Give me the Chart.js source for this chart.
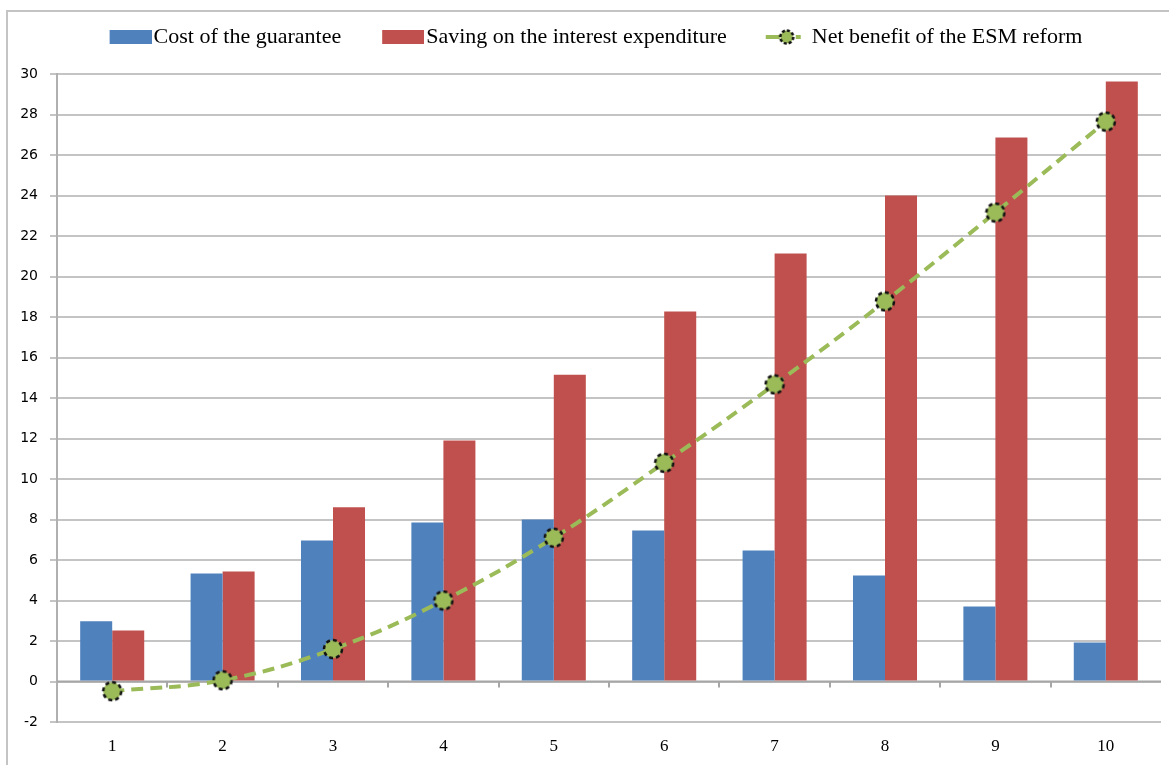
<!DOCTYPE html>
<html>
<head>
<meta charset="utf-8">
<script src="https://cdn.jsdelivr.net/npm/chart.js@4.4.1/dist/chart.umd.min.js"></script>
<style>
html,body{margin:0;padding:0;background:#fff;}
#wrap{position:relative;width:1169px;height:765px;overflow:hidden;}
#frame{position:absolute;left:6px;top:10px;width:1200px;height:800px;border-left:2px solid #c4c4c4;border-top:2px solid #c4c4c4;pointer-events:none;}
canvas{position:absolute;left:0;top:0;}
</style>
</head>
<body>
<div id="wrap">
<canvas id="c" width="1169" height="765"></canvas>
<div id="frame"></div>
</div>
<script>
// ---- data ----
const categories = ['1','2','3','4','5','6','7','8','9','10'];
const costOfGuarantee = [2.97, 5.33, 6.96, 7.85, 8.0, 7.46, 6.47, 5.23, 3.7, 1.93];
const savingOnInterest = [2.52, 5.43, 8.6, 11.9, 15.15, 18.27, 21.13, 24.0, 26.86, 29.63];
const netBenefit = [-0.48, 0.06, 1.6, 4.0, 7.1, 10.8, 14.67, 18.77, 23.16, 27.65];
const seriesNames = ['Cost of the guarantee', 'Saving on the interest expenditure', 'Net benefit of the ESM reform'];
const yMin = -2, yMax = 30, yStep = 2;

// ---- styles ----
const BLUE = '#4F81BD', RED = '#C0504D', GREEN = '#9BBB59';
const ICON_SLOT = 64;           // legend pointStyleWidth
const ICON_W = ICON_SLOT + 18;  // icon canvas width (icon drawn at its right end)

function makeMarker(r) {
  const s = Math.ceil(r * 2 + 4);
  const cv = document.createElement('canvas');
  cv.width = s; cv.height = s;
  const g = cv.getContext('2d');
  g.beginPath(); g.arc(s/2, s/2, r, 0, Math.PI*2);
  g.fillStyle = GREEN; g.fill();
  g.setLineDash([4, 3]); g.lineWidth = 2.5; g.strokeStyle = '#111'; g.stroke();
  return cv;
}
function makeRect(color) {
  const cv = document.createElement('canvas');
  cv.width = ICON_W; cv.height = 14;
  const g = cv.getContext('2d');
  g.fillStyle = color; g.fillRect(ICON_W - 42, 0, 42, 14);
  return cv;
}
function makeLineLegend() {
  const cv = document.createElement('canvas');
  cv.width = ICON_W; cv.height = 20;
  const g = cv.getContext('2d');
  const o = ICON_W - 46;
  g.strokeStyle = GREEN; g.lineWidth = 4;
  g.beginPath(); g.moveTo(o + 2, 10); g.lineTo(o + 16, 10); g.stroke();
  g.beginPath(); g.moveTo(o + 32, 10); g.lineTo(o + 37, 10); g.stroke();
  g.beginPath(); g.arc(o + 23, 10, 6.5, 0, Math.PI*2);
  g.fillStyle = GREEN; g.fill();
  g.setLineDash([3, 2]); g.lineWidth = 2.5; g.strokeStyle = '#111'; g.stroke();
  return cv;
}
const marker = makeMarker(9);
const legendIcons = [makeRect(BLUE), makeRect(RED), makeLineLegend()];

const zeroAxisPlugin = {
  id: 'zeroAxis',
  beforeDatasetsDraw(chart) {
    const {ctx, chartArea, scales} = chart;
    const y0 = scales.y.getPixelForValue(0);
    ctx.save();
    ctx.strokeStyle = '#a6a6a6';
    ctx.lineWidth = 2;
    ctx.beginPath();
    ctx.moveTo(chartArea.left, y0); ctx.lineTo(chartArea.right, y0);
    for (let i = 0; i < categories.length - 1; i++) {
      const x = Math.round((scales.x.getPixelForValue(i) + scales.x.getPixelForValue(i + 1)) / 2);
      ctx.moveTo(x, y0); ctx.lineTo(x, y0 + 6);
    }
    ctx.stroke();
    ctx.restore();
  }
};

// extra space below the legend
const legendGapPlugin = {
  id: 'legendGap',
  afterInit(chart) {
    const lg = chart.legend;
    if (!lg) return;
    const orig = lg.fit.bind(lg);
    lg.fit = function () { orig(); this.height += 16; };
  }
};

new Chart(document.getElementById('c'), {
  data: {
    labels: categories,
    datasets: [
      { type: 'line', label: seriesNames[2], data: netBenefit, order: 0,
        borderColor: GREEN, borderWidth: 4, borderDash: [12, 7], tension: 0.4,
        fill: false,
        pointStyle: marker, pointRadius: 9, pointHoverRadius: 9 },
      { type: 'bar', label: seriesNames[0], data: costOfGuarantee, order: 1,
        backgroundColor: BLUE, borderWidth: 0 },
      { type: 'bar', label: seriesNames[1], data: savingOnInterest, order: 1,
        backgroundColor: RED, borderWidth: 0 }
    ]
  },
  options: {
    responsive: false,
    animation: false,
    layout: { autoPadding: false, padding: { left: 0, right: 8, top: 16, bottom: 0 } },
    plugins: {
      tooltip: { enabled: false },
      legend: {
        position: 'top',
        labels: {
          font: { family: '"Liberation Serif", serif', size: 22 },
          color: '#000',
          usePointStyle: true,
          pointStyleWidth: ICON_SLOT,
          boxHeight: 14,
          padding: 10,
          generateLabels(chart) {
            const order = [1, 2, 0];
            return order.map((di, k) => ({
              text: chart.data.datasets[di].label,
              pointStyle: legendIcons[k],
              datasetIndex: di,
              hidden: false,
              lineWidth: 0,
              strokeStyle: 'transparent',
              fillStyle: 'transparent',
              fontColor: '#000'
            }));
          }
        }
      }
    },
    datasets: { bar: { barPercentage: 1.0, categoryPercentage: 0.58 } },
    scales: {
      x: {
        type: 'category',
        grid: { display: false, drawTicks: false },
        border: { display: false },
        ticks: { font: { family: '"Liberation Serif", serif', size: 17 }, color: '#000', padding: 14, maxRotation: 0 },
        afterFit(s) { s.height = 43; s.paddingLeft = 0; s.paddingRight = 0; }
      },
      y: {
        min: yMin, max: yMax,
        ticks: { stepSize: yStep, font: { family: '"DejaVu Sans", sans-serif', size: 14 }, color: '#000', padding: 12 },
        grid: { color: '#c4c4c4', lineWidth: 2, tickLength: 7 },
        border: { display: true, color: '#b0b0b0', width: 2 },
        afterFit(s) { s.width = 57; }
      }
    }
  },
  plugins: [zeroAxisPlugin, legendGapPlugin]
});
</script>
</body>
</html>
